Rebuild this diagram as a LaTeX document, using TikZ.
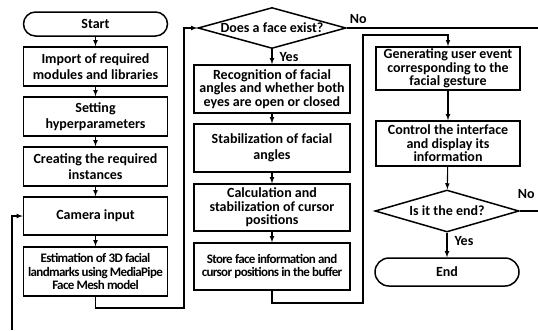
\documentclass[tikz,border=0pt]{standalone}
\usepackage{fontspec}
\setmainfont{Carlito}
\usetikzlibrary{shapes.geometric}

\begin{document}
\begin{tikzpicture}[x=1pt,y=-1pt,align=center,
	font=\bfseries\fontsize{14}{13.5}\selectfont]

\useasboundingbox (0,0) rectangle (538,330);

\tikzstyle{blk}=[
	rectangle,
	draw,
	line width=1.5pt,
	inner sep=2pt,
	minimum width=144pt
]
\tikzstyle{wideblk}=[
	blk,
	minimum width=156pt
]
\tikzstyle{term}=[
	rectangle,
	draw,
	line width=1.5pt,
	rounded corners=12pt,
	minimum width=144pt,
	minimum height=24pt
]
\tikzstyle{dec}=[
	diamond,
	draw,
	line width=1.5pt,
	inner sep=0pt,
	aspect=3.5
]
\tikzstyle{loose}=[
	font=\bfseries\fontsize{14}{16.5}\selectfont
]
\tikzstyle{tight}=[
	font=\bfseries\fontsize{13}{13.5}\selectfont\addfontfeatures{LetterSpace=-5}
]
\tikzstyle{arr}=[->, >=latex, line width=1.1pt]
\tikzstyle{lbl}=[inner sep=1pt]

% left column
\node[term] (start) at (95.5, 24) {Start};
\node[blk, loose, minimum height=39pt] (imp) at (95.5, 66.5)
	{Import of required\\modules and libraries};
\node[blk, loose, minimum height=39pt] (hyp) at (95.5, 116.5)
	{Setting\\hyperparameters};
\node[blk, loose, minimum height=39pt] (inst) at (95.5, 166.5)
	{Creating the required\\instances};
\node[blk, minimum height=38pt] (cam) at (95.5, 216) {Camera input};
\node[blk, tight, minimum height=49pt] (mesh) at (95.5, 271.5)
	{Estimation of 3D facial\\landmarks using MediaPipe\\Face Mesh model};

% middle column
\node[dec, minimum width=148pt, minimum height=41pt] (face) at (272, 28)
	{Does a face exist?};
\node[wideblk, minimum height=48pt] (angle) at (272, 89)
	{Recognition of facial\\angles and whether both\\eyes are open or closed};
\node[wideblk, loose, minimum height=48pt] (stab) at (272, 148)
	{Stabilization of facial\\angles};
\node[wideblk, minimum height=47pt] (calc) at (272, 207.5)
	{Calculation and\\stabilization of cursor\\positions};
\node[wideblk, tight, minimum height=47pt] (buf) at (272, 266.5)
	{Store face information and\\cursor positions in the buffer};

% right column
\node[blk, minimum height=43pt] (event) at (448, 68.5)
	{Generating user event\\corresponding to the\\facial gesture};
\node[blk, minimum height=45pt] (ctrl) at (448, 143.5)
	{Control the interface\\and display its\\information};
\node[dec, minimum width=144pt, minimum height=42pt] (isend) at (447, 211)
	{Is it the end?};
\node[term, rounded corners=14pt, minimum height=28pt] (end) at (447, 272)
	{End};

\coordinate (noface) at (538, 28);
\coordinate (noend) at (538, 211);
\coordinate (loop) at (12, 330);

\draw[arr] (start) -> (imp);
\draw[arr] (imp) -> (hyp);
\draw[arr] (hyp) -> (inst);
\draw[arr] (inst) -> (cam);
\draw[arr] (cam) -> (mesh);
\draw[arr] (mesh.south) |- (184, 308) |- (face.west);

\draw[arr] (face) -> (angle) node[lbl, midway, right, xshift=6pt] {Yes};
\draw[arr] (angle) -> (stab);
\draw[arr] (stab) -> (calc);
\draw[arr] (calc) -> (buf);
\draw[arr] (buf.south) |- (363, 303) |- (448, 35) -> (event.north);
\draw[line width=1.1pt] (face.east) -- (noface);
\node[lbl, anchor=south west] (nolbl1) at ([shift={(2pt,3pt)}]face.east) {No};

\draw[arr] (event) -> (ctrl);
\draw[arr] (ctrl) -> (isend);
\draw[arr] (isend) -> (end) node[lbl, pos=0.35, right, xshift=6pt] {Yes};
\draw[line width=1.1pt] (isend.east) -- (noend);
\node[lbl, anchor=south west] (nolbl2) at ([shift={(-3pt,11pt)}]isend.east) {No};

\draw[arr] (loop) |- (cam.west);

\end{tikzpicture}
\end{document}
